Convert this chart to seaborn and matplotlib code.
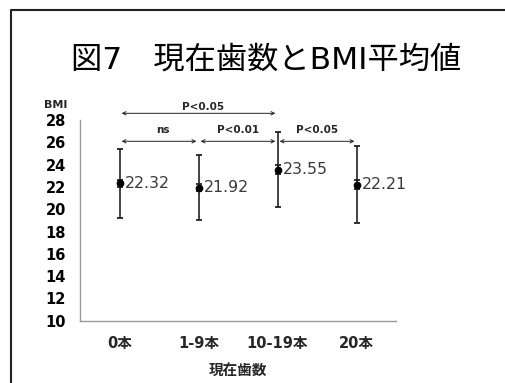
import matplotlib
matplotlib.use("Agg")
import matplotlib.pyplot as plt
import matplotlib.lines as mlines
import matplotlib.transforms as mtransforms
import seaborn as sns
import pandas as pd

# ---- data ----
categories = ["0本", "1-9本", "10-19本", "20本"]
means = [22.32, 21.92, 23.55, 22.21]
sd = [3.12, 2.90, 3.37, 3.45]
se = [0.33, 0.31, 0.43, 0.39]
y_ticks = [10, 12, 14, 16, 18, 20, 22, 24, 26, 28]
# significance comparisons: (from index, to index, label)
comparisons_top = [(0, 2, "P<0.05")]
comparisons_row = [(0, 1, "ns"), (1, 2, "P<0.01"), (2, 3, "P<0.05")]
title = "図7　現在歯数とBMI平均値"
x_label = "現在歯数"
y_label = "BMI"

sns.set_style("white")
plt.rcParams["font.family"] = ["DejaVu Sans", "Noto Sans CJK JP"]

df = pd.DataFrame({"category": categories, "mean": means, "sd": sd, "se": se})

W, H = 505, 383
fig = plt.figure(figsize=(W / 100, H / 100), dpi=100)
fig.patch.set_facecolor("white")
fig.patch.set_edgecolor("white")
fig.patch.set_linewidth(0)

# outer frame: left and top edges only visible (rest runs off the image)
fx, fy = 11 / W, 1 - 10 / H
fig.add_artist(mlines.Line2D([fx, fx], [-0.05, fy], transform=fig.transFigure,
                             color="#222222", linewidth=1.5))
fig.add_artist(mlines.Line2D([fx, 1.0], [fy, fy], transform=fig.transFigure,
                             color="#222222", linewidth=1.5,
                             solid_capstyle="butt"))

ax = fig.add_axes([80 / W, 1 - 320.7 / H, 316 / W, (320.7 - 120) / H])

sns.pointplot(data=df, x="category", y="mean", order=categories,
              linestyle="none", color="black", markers="o",
              markersize=3.5, errorbar=None, ax=ax, zorder=5)

xpos = list(range(len(categories)))
for err in (df["sd"], df["se"]):
    _, caps, bars = ax.errorbar(xpos, df["mean"], yerr=err, fmt="none",
                                ecolor="#222222", elinewidth=1.2,
                                capsize=2.2, capthick=1.3, zorder=3)
    for c in caps:
        c.set_color("#1010ee")

ax.set_ylim(10, 28)
ax.set_xlim(-0.5, len(categories) - 0.5)
ax.set_yticks(y_ticks)
ax.set_yticklabels([str(v) for v in y_ticks], fontsize=10.5,
                   fontweight="bold", color="black")

# category boundaries as major ticks, labels at centers as minor ticks
ax.set_xticks([i - 0.5 for i in range(len(categories) + 1)])
ax.set_xticklabels([])
ax.set_xticks(xpos, minor=True)
ax.set_xticklabels(categories, minor=True, fontsize=10.5, fontweight="bold")
ax.tick_params(axis="x", which="major", length=4, width=1, color="#999999",
               direction="out")
ax.tick_params(axis="x", which="minor", length=0, pad=11)
ax.tick_params(axis="y", length=4, width=1, color="#999999", direction="out",
               pad=6)

for side in ("top", "right"):
    ax.spines[side].set_visible(False)
for side in ("left", "bottom"):
    ax.spines[side].set_color("#999999")
    ax.spines[side].set_linewidth(1)

ax.set_xlabel(x_label, fontsize=10.5, fontweight="bold", labelpad=9)
ax.set_ylabel("")

# value labels
for i, m in enumerate(means):
    ax.annotate(f"{m:.2f}", xy=(i, m), xytext=(4, 0),
                textcoords="offset points", ha="left", va="center",
                fontsize=11.3, color="#3a3a3a", zorder=6)

# y label "BMI" above axis
trans = mtransforms.blended_transform_factory(ax.transAxes, ax.transData)
ax.text(-0.076, 29.35, y_label, transform=trans, ha="center", va="center",
        fontsize=8, fontweight="bold", clip_on=False)

# significance arrows
def sig(x0, x1, y_arrow, y_text, xt, label):
    ax.annotate("", xy=(x1, y_arrow), xytext=(x0, y_arrow),
                arrowprops=dict(arrowstyle="<->", lw=0.7, color="#222222",
                                shrinkA=1.5, shrinkB=1.5, mutation_scale=6),
                annotation_clip=False)
    ax.text(xt, y_text, label, ha="center", va="baseline", fontsize=7.5,
            fontweight="bold", clip_on=False)

text_x_top = [1.06]
for (a, b, lab), xt in zip(comparisons_top, text_x_top):
    sig(a, b, 28.6, 28.9, xt, lab)
text_x_row = [0.55, 1.5, 2.5]
for (a, b, lab), xt in zip(comparisons_row, text_x_row):
    sig(a, b, 26.09, 26.79, xt, lab)

fig.text(266 / W, 1 - 60 / H, title, ha="center", va="center",
         fontsize=22.5, color="black")

fig.savefig("out.png", dpi=100, facecolor="white")
